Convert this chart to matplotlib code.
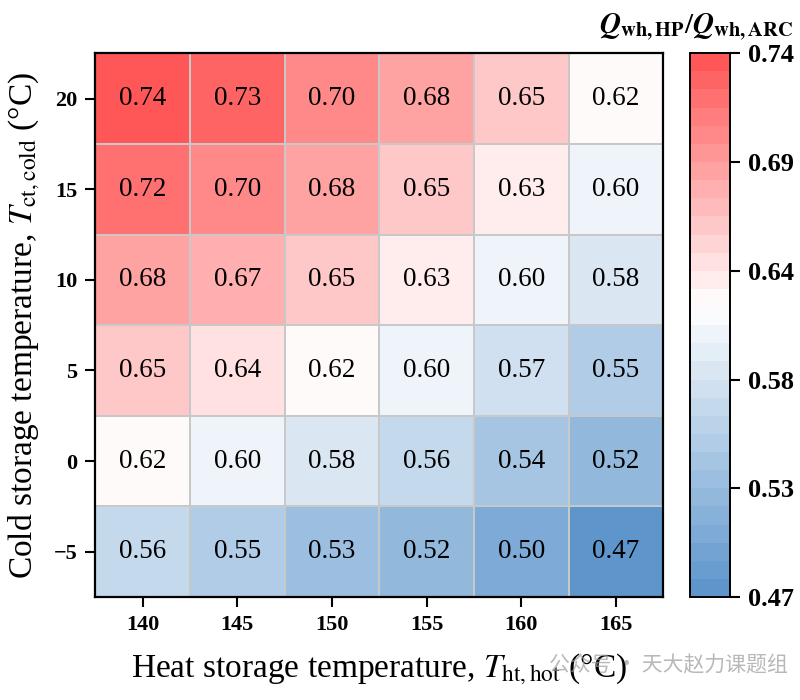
import numpy as np
import matplotlib
matplotlib.use("Agg")
import matplotlib.pyplot as plt
from matplotlib.colors import LinearSegmentedColormap

plt.rcParams["font.family"] = ["Liberation Serif", "DejaVu Serif"]
plt.rcParams["mathtext.fontset"] = "stix"

# ── Data ──────────────────────────────────────────────────────────────────────
heat_temps = [140, 145, 150, 155, 160, 165]
cold_temps = [20, 15, 10, 5, 0, -5]          # top → bottom
ratio = np.array([
    [0.74, 0.73, 0.70, 0.68, 0.65, 0.62],
    [0.72, 0.70, 0.68, 0.65, 0.63, 0.60],
    [0.68, 0.67, 0.65, 0.63, 0.60, 0.58],
    [0.65, 0.64, 0.62, 0.60, 0.57, 0.55],
    [0.62, 0.60, 0.58, 0.56, 0.54, 0.52],
    [0.56, 0.55, 0.53, 0.52, 0.50, 0.47],
])
cbar_labels = ["0.47", "0.53", "0.58", "0.64", "0.69", "0.74"]

vmin, vmax = 0.47, 0.74
white_at = 0.615  # value that maps to white
w = (white_at - vmin) / (vmax - vmin)
cmap = LinearSegmentedColormap.from_list(
    "bwr_soft", [(0.0, "#5e96cc"), (w, "#ffffff"), (1.0, "#ff5757")], N=30)

# ── Figure ────────────────────────────────────────────────────────────────────
fig = plt.figure(figsize=(8, 7), dpi=100)
ax = fig.add_axes([0.119, 0.147, 0.710, 0.777])
cax = fig.add_axes([0.8625, 0.147, 0.050, 0.777])

im = ax.pcolormesh(np.arange(7), np.arange(7), ratio[::-1], cmap=cmap,
                   vmin=vmin, vmax=vmax, edgecolor="#c8c8c8", linewidth=1.4)

for i, row in enumerate(ratio[::-1]):
    for j, v in enumerate(row):
        ax.text(j + 0.5, i + 0.5, f"{v:.2f}", ha="center", va="center",
                fontsize=19.5, color="black")

ax.set_xlim(0, 6)
ax.set_ylim(0, 6)
ax.set_xticks(np.arange(6) + 0.5)
ax.set_xticklabels([str(t) for t in heat_temps])
ax.set_yticks(np.arange(6) + 0.5)
ax.set_yticklabels([str(t).replace("-", "\u2212") for t in cold_temps[::-1]])
ax.tick_params(direction="out", length=7, width=1.5, labelsize=16, pad=6)
for lbl in ax.get_xticklabels() + ax.get_yticklabels():
    lbl.set_fontweight("bold")
for s in ax.spines.values():
    s.set_linewidth(1.6)

ax.set_xlabel(r"Heat storage temperature, $T_{\mathrm{ht,hot}}$ (°C)",
              fontsize=24, labelpad=12)
ax.set_ylabel(r"Cold storage temperature, $T_{\mathrm{ct,cold}}$ (°C)",
              fontsize=24, labelpad=8)

cb = fig.colorbar(im, cax=cax)
cb.set_ticks(np.linspace(vmin, vmax, 6))
cb.set_ticklabels(cbar_labels)
cb.ax.tick_params(length=7, width=1.5, labelsize=19, pad=6)
for lbl in cb.ax.get_yticklabels():
    lbl.set_fontweight("bold")
cb.outline.set_linewidth(1.4)
cb.ax.set_title(r"$\mathbfit{Q}_{\mathbf{wh,HP}}/\mathbfit{Q}_{\mathbf{wh,ARC}}$",
                fontsize=21, pad=14, x=0.15)

# watermark
fig.text(0.985, 0.05, "公众号 · 天大赵力课题组", fontsize=15, color="#9a9a9a",
         alpha=0.7, family=["Noto Sans CJK SC", "DejaVu Sans"],
         ha="right", va="center")

fig.savefig("out.png", dpi=100)
